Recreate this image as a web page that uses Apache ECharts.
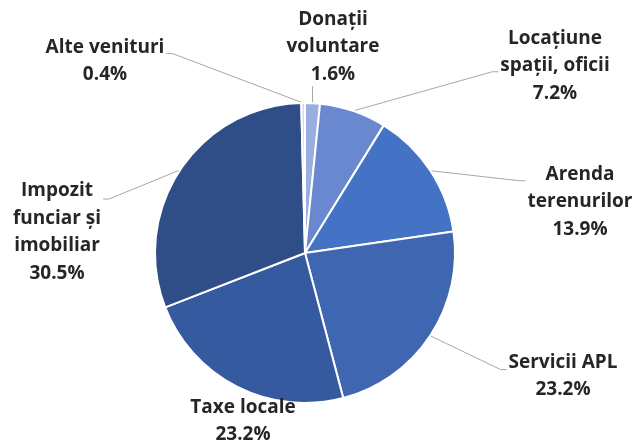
<!DOCTYPE html>
<html>
<head>
<meta charset="utf-8">
<script src="https://cdn.jsdelivr.net/npm/echarts@6/dist/echarts.min.js"></script>
<style>
    html, body { margin: 0; padding: 0; background: #fff; }
    #chart { width: 635px; height: 444px; }
</style>
</head>
<body>
<div id="chart"></div>
<script>
// data, clockwise from 12 o'clock
var categories = ['Donații\nvoluntare', 'Locațiune\nspații, oficii', 'Arenda\nterenurilor', 'Servicii APL', 'Taxe locale', 'Impozit\nfunciar și\nimobiliar', 'Alte venituri'];
var shares = [1.6, 7.2, 13.9, 23.2, 23.2, 30.5, 0.4];

var colors = ['#9aaee0', '#6a88cf', '#4472c4', '#3f66b0', '#365a9f', '#2f4d87', '#d3dbf0'];
// label centres, and where the leader line meets the label (px below label top)
var labelPos = [[333, 47], [555, 66], [580, 202], [563, 376], [243, 421], [57, 232], [105, 61]];
var leaderDy = [0, 47, 20, 21, 0, 22, 20];

drawPie();

function drawPie() {
    var dom = document.getElementById("chart");
    var myChart = echarts.init(dom);
    var data = [];
    for (var i = 0; i < categories.length; i++) {
        data.push({
            name: categories[i],
            value: shares[i],
            itemStyle: { color: colors[i] },
            labelLine: { show: i !== 4 }
        });
    }
    var option = {
        animation: false,
        series: [{
            type: 'pie',
            center: [305, 253],
            radius: 150,
            startAngle: 90,
            clockwise: true,
            avoidLabelOverlap: false,
            emphasis: { disabled: true },
            itemStyle: {
                borderColor: '#fff',
                borderWidth: 2
            },
            label: {
                show: true,
                position: 'outside',
                formatter: function (p) {
                    return p.name + '\n' + p.value.toFixed(1) + '%';
                },
                fontFamily: 'Open Sans',
                fontSize: 19,
                fontWeight: 'bold',
                lineHeight: 27.5,
                color: '#262626',
                align: 'center'
            },
            labelLine: {
                show: true,
                length: 10,
                length2: 10,
                lineStyle: { color: '#a6a6a6', width: 1 }
            },
            labelLayout: function (p) {
                var i = p.dataIndex;
                var c = labelPos[i];
                var w = p.labelRect.width, h = p.labelRect.height;
                var res = { x: c[0], y: c[1], align: 'center', verticalAlign: 'middle' };
                var pts = p.labelLinePoints;
                if (pts && pts.length) {
                    var s = pts[0];
                    var left = c[0] - w / 2, right = c[0] + w / 2, top = c[1] - h / 2;
                    if (s[0] > left && s[0] < right) {
                        res.labelLinePoints = [s, [s[0], top + h - 2], [s[0], top + h - 2]];
                    } else if (s[0] < left) {
                        res.labelLinePoints = [s, [left - 8, top + leaderDy[i]], [left - 2, top + leaderDy[i]]];
                    } else {
                        res.labelLinePoints = [s, [right + 8, top + leaderDy[i]], [right + 2, top + leaderDy[i]]];
                    }
                }
                return res;
            },
            data: data
        }]
    };
    myChart.setOption(option, true);
    window.onresize = myChart.resize;
}
</script>
</body>
</html>
